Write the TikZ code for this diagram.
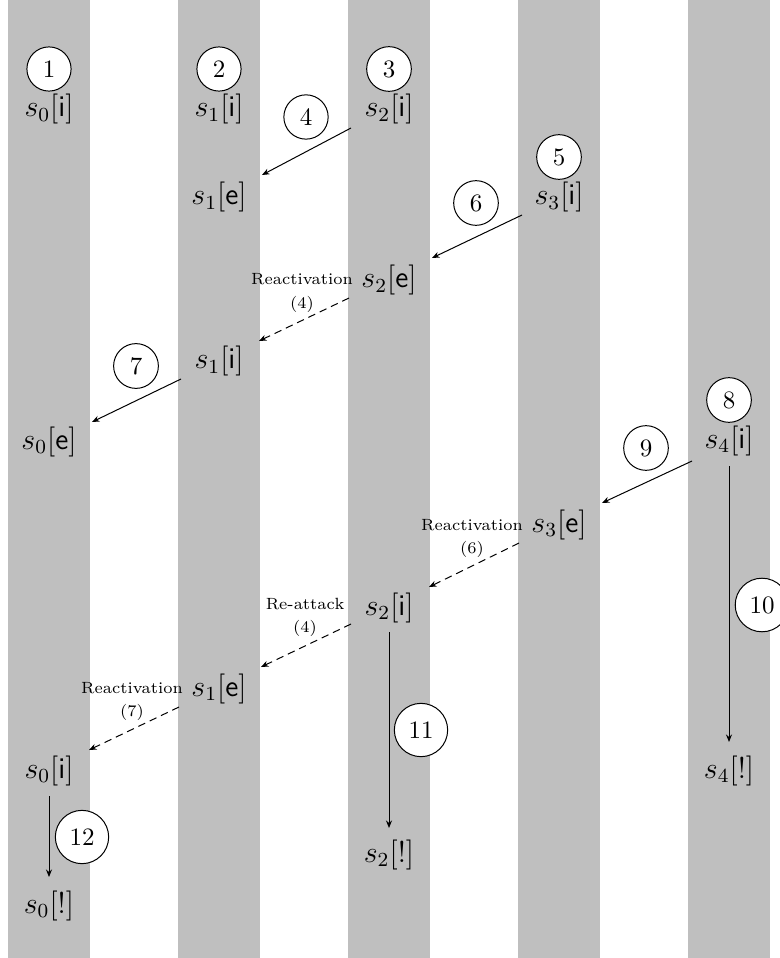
\documentclass[tikz,border=0pt]{standalone}
\usetikzlibrary{arrows.meta}
\begin{document}
\begin{tikzpicture}[x=0.4pt,y=-0.4pt,
  st/.style={font=\large, inner sep=0pt, anchor=base},
  num/.style={circle, draw, fill=white, minimum size=17pt, inner sep=3.33pt, font=\normalsize},
  lbl/.style={font=\fontsize{6.5}{9.4}\selectfont, align=center, inner sep=0pt, anchor=base},
  arr/.style={-{Stealth[length=3pt,width=2.4pt]}},
  darr/.style={arr, dash pattern=on 3pt off 2pt}]
\useasboundingbox (0,0) rectangle (779,958);
% columns
\foreach \x in {8,178,348,518,688} \fill[lightgray] (\x,0) rectangle (\x+82,958);
% state nodes
\node[st] (s0i) at (49,117) {$s_0[\textsf{i}]$};
\node[st] (s1i) at (219,117) {$s_1[\textsf{i}]$};
\node[st] (s2i) at (389,117) {$s_2[\textsf{i}]$};
\node[st] (s1e) at (219,205) {$s_1[\textsf{e}]$};
\node[st] (s3i) at (559,205) {$s_3[\textsf{i}]$};
\node[st] (s2e) at (389,288) {$s_2[\textsf{e}]$};
\node[st] (s1ib) at (219,369) {$s_1[\textsf{i}]$};
\node[st] (s0e) at (49,449) {$s_0[\textsf{e}]$};
\node[st] (s4i) at (729,448) {$s_4[\textsf{i}]$};
\node[st] (s3e) at (559,532) {$s_3[\textsf{e}]$};
\node[st] (s2ib) at (389,615) {$s_2[\textsf{i}]$};
\node[st] (s1eb) at (219,696) {$s_1[\textsf{e}]$};
\node[st] (s0ib) at (49,778) {$s_0[\textsf{i}]$};
\node[st] (s4x) at (729,778) {$s_4[!]$};
\node[st] (s2x) at (389,862) {$s_2[!]$};
\node[st] (s0x) at (49,913) {$s_0[!]$};
% labels (base anchor = last line)
\node[lbl] (l1) at (302,308.5) {Reactivation\\(4)};
\node[lbl] (l2) at (472,553.5) {Reactivation\\(6)};
\node[lbl] (l3) at (305,632.5) {Re-attack\\(4)};
\node[lbl] (l4) at (132,716.5) {Reactivation\\(7)};
% arrows
\draw[arr] ([shift={(-38,11)}]s2i.base) -- ([shift={(43,-30)}]s1e.base);
\draw[arr] ([shift={(-37,10)}]s3i.base) -- ([shift={(43,-30)}]s2e.base);
\draw[darr] ([shift={(-40,10)}]s2e.base) -- ([shift={(40,-28)}]s1ib.base);
\draw[arr] ([shift={(-38,10)}]s1ib.base) -- ([shift={(43,-27)}]s0e.base);
\draw[arr] ([shift={(-37,13)}]s4i.base) -- ([shift={(43,-29)}]s3e.base);
\draw[darr] ([shift={(-40,11)}]s3e.base) -- ([shift={(40,-28)}]s2ib.base);
\draw[darr] ([shift={(-38,9)}]s2ib.base) -- ([shift={(42,-29)}]s1eb.base);
\draw[darr] ([shift={(-40,11)}]s1eb.base) -- ([shift={(40,-28)}]s0ib.base);
\draw[arr] ([shift={(0,18)}]s4i.base) -- ([shift={(0,-36)}]s4x.base);
\draw[arr] ([shift={(0,17)}]s2ib.base) -- ([shift={(0,-34)}]s2x.base);
\draw[arr] ([shift={(0,18)}]s0ib.base) -- ([shift={(0,-36)}]s0x.base);
% numbered circles
\node[num] (c1) at (49,69) {1};
\node[num] (c2) at (219,69) {2};
\node[num] (c3) at (389,69) {3};
\node[num] (c4) at (306,117) {4};
\node[num] (c5) at (559,157) {5};
\node[num] (c6) at (476,203) {6};
\node[num] (c7) at (136,366) {7};
\node[num] (c8) at (729,400) {8};
\node[num] (c9) at (646,448) {9};
\node[num] (c10) at (762,605) {10};
\node[num] (c11) at (421,730) {11};
\node[num] (c12) at (82,837) {12};
\end{tikzpicture}
\end{document}
